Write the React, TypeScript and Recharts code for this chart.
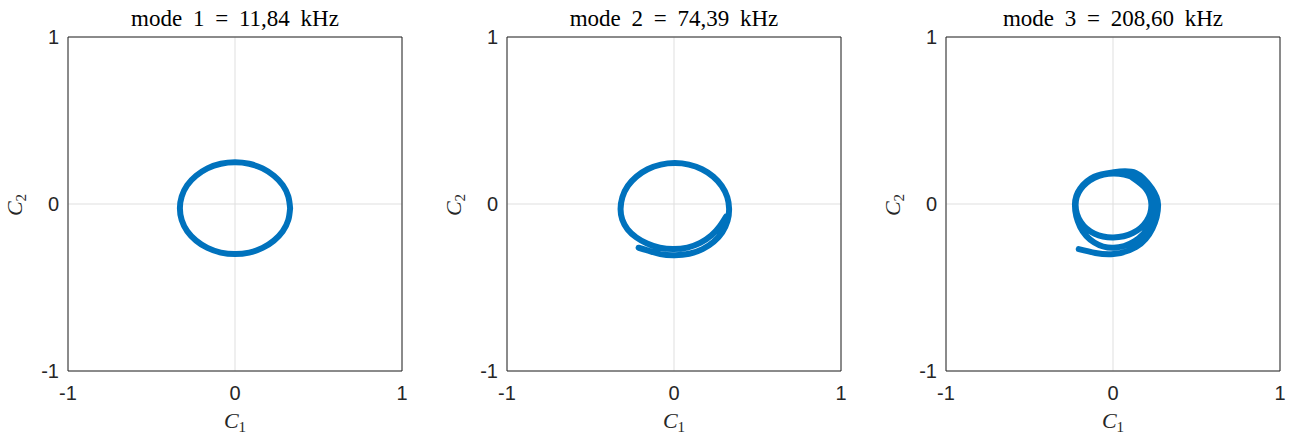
import { LineChart, Line, XAxis, YAxis, CartesianGrid, ReferenceArea } from 'recharts';

const ticks = [-1, 0, 1];
const titles = ['mode 1 = 11,84 kHz', 'mode 2 = 74,39 kHz', 'mode 3 = 208,60 kHz'];

// mode 1: closed orbit
const mode1C1 = [0.33, 0.319, 0.286, 0.233, 0.165, 0.085, 0, -0.085, -0.165, -0.233, -0.286, -0.319, -0.33, -0.319, -0.286, -0.233, -0.165, -0.085, 0, 0.085, 0.165, 0.233, 0.286, 0.319, 0.33];
const mode1C2 = [-0.025, 0.046, 0.113, 0.169, 0.213, 0.241, 0.25, 0.241, 0.213, 0.169, 0.113, 0.046, -0.025, -0.096, -0.163, -0.219, -0.263, -0.291, -0.3, -0.291, -0.263, -0.219, -0.163, -0.096, -0.025];

// mode 2: orbit that drifts outward on the lower side
const mode2C1 = [0.312, 0.274, 0.223, 0.157, 0.08, -0.003, -0.085, -0.161, -0.226, -0.278, -0.31, -0.32, -0.309, -0.277, -0.225, -0.158, -0.079, 0.005, 0.089, 0.1675, 0.235, 0.286, 0.319, 0.33, 0.3205, 0.289, 0.238, 0.171, 0.091, 0.005, -0.082, -0.164, -0.212];
const mode2C2 = [-0.075, -0.133, -0.189, -0.233, -0.261, -0.27, -0.262, -0.237, -0.2, -0.152, -0.093, -0.03, 0.041, 0.1075, 0.164, 0.208, 0.236, 0.245, 0.236, 0.208, 0.164, 0.1075, 0.041, -0.03, -0.1016, -0.169, -0.226, -0.27, -0.298, -0.307, -0.3, -0.276, -0.262];

// mode 3: spiral
const mode3C1 = [-0.205, -0.105, 0.003, 0.1382, 0.2357, 0.27, 0.2327, 0.1364, 0.003, -0.1128, -0.1973, -0.228, -0.1968, -0.1122, 0.003, 0.1282, 0.2184, 0.25, 0.2154, 0.1249, 0.003, -0.1109, -0.1938, -0.224, -0.1933, -0.1102, 0.003, 0.1182, 0.2011, 0.23, 0.1981, 0.1149];
const mode3C2 = [-0.27, -0.293, -0.3, -0.2573, -0.1475, -0.005, 0.0925, 0.1855, 0.19, 0.1634, 0.0919, -0.005, -0.1367, -0.2303, -0.262, -0.223, -0.1284, -0.005, 0.0896, 0.1583, 0.183, 0.1573, 0.0884, -0.005, -0.1077, -0.1784, -0.2, -0.1739, -0.1025, -0.005, 0.089, 0.158];

const zip = (xs: number[], ys: number[]) => xs.map((x, i) => ({ x, y: ys[i] }));

const series = [zip(mode1C1, mode1C2), zip(mode2C1, mode2C2), zip(mode3C1, mode3C2)];

const sans = '"Liberation Sans", Arial, Helvetica, sans-serif';
const serif = '"Liberation Serif", "Times New Roman", serif';

const Panel = ({ title, data, left }: { title: string; data: { x: number; y: number }[]; left: number }) => (
  <div style={{ position: 'absolute', left, top: 0, width: 439, height: 435 }}>
    <LineChart width={439} height={435} data={data} margin={{ top: 37, right: 37, left: 0, bottom: 0 }}>
      <CartesianGrid stroke="#dfdfdf" />
      <XAxis
        type="number"
        dataKey="x"
        domain={[-1, 1]}
        ticks={ticks}
        interval={0}
        allowDataOverflow
        axisLine={false}
        tickLine={false}
        tickSize={0}
        tickMargin={15}
        height={64}
        tick={{ fill: '#262626', fontSize: 20, fontFamily: sans }}
      />
      <YAxis
        type="number"
        domain={[-1, 1]}
        ticks={ticks}
        interval={0}
        allowDataOverflow
        axisLine={false}
        tickLine={false}
        tickSize={0}
        tickMargin={9}
        width={68}
        tick={{ fill: '#262626', fontSize: 20, fontFamily: sans }}
      />
      <ReferenceArea x1={-1} x2={1} y1={-1} y2={1} fill="none" fillOpacity={0} stroke="#262626" strokeOpacity={1} strokeWidth={1} />
      <Line
        dataKey="y"
        type="natural"
        dot={false}
        activeDot={false}
        stroke="#0072BD"
        strokeWidth={6}
        strokeLinecap="round"
        strokeLinejoin="round"
        isAnimationActive={false}
      />
    </LineChart>
    <div style={{ position: 'absolute', left: 68, top: 7, width: 334, textAlign: 'center', fontFamily: serif, fontSize: 23, lineHeight: '23px', wordSpacing: 5, color: '#000', whiteSpace: 'nowrap' }}>
      {title}
    </div>
    <div style={{ position: 'absolute', left: 68, top: 410, width: 334, textAlign: 'center', fontFamily: serif, fontSize: 22, lineHeight: '22px', color: '#262626' }}>
      <i>C</i><span style={{ fontSize: 15, position: 'relative', top: 4 }}>1</span>
    </div>
    <div style={{ position: 'absolute', left: -35, top: 194, width: 100, height: 22, textAlign: 'center', fontFamily: serif, fontSize: 22, lineHeight: '22px', color: '#262626', transform: 'rotate(-90deg)' }}>
      <i>C</i><span style={{ fontSize: 15, position: 'relative', top: 4 }}>2</span>
    </div>
  </div>
);

export default function App() {
  return (
    <div style={{ position: 'absolute', left: 0, top: 0, width: 1289, height: 435, background: '#fff' }}>
      {series.map((d, i) => (
        <Panel key={i} title={titles[i]} data={d} left={i * 439} />
      ))}
    </div>
  );
}
